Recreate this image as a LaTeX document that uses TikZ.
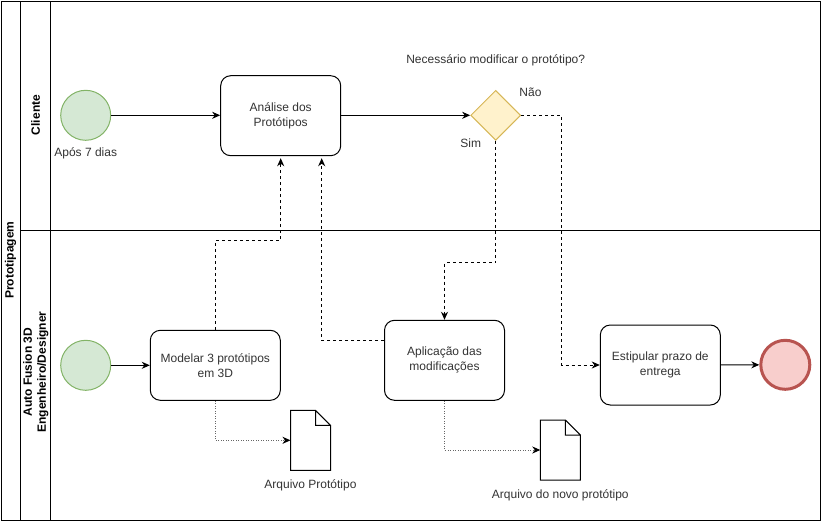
\documentclass[tikz,border=0pt]{standalone}
\usepackage{fontspec}
\setmainfont{Liberation Sans}
\usetikzlibrary{arrows.meta,shapes.geometric,positioning}
\definecolor{txt}{HTML}{333333}
\definecolor{startfill}{HTML}{D5E8D4}
\definecolor{startline}{HTML}{82B366}
\definecolor{gwfill}{HTML}{FFF2CC}
\definecolor{gwline}{HTML}{D6B656}
\definecolor{endfill}{HTML}{F8CECC}
\definecolor{endline}{HTML}{B85450}
\begin{document}
\begin{tikzpicture}[x=1pt,y=-1pt,line width=1pt,font=\fontsize{12}{15}\selectfont,
    task/.style={draw,rounded corners=10pt,minimum width=120pt,minimum height=80pt,align=center,text=txt},
    start/.style={circle,draw=startline,fill=startfill,minimum size=50pt,inner sep=0pt},
    stop/.style={circle,draw=endline,fill=endfill,line width=3pt,minimum size=49pt,inner sep=0pt},
    gate/.style={diamond,draw=gwline,fill=gwfill,minimum width=50pt,minimum height=50pt,inner sep=0pt},
    docbox/.style={minimum width=40pt,minimum height=60pt,inner sep=0pt,outer sep=0pt},
    lbl/.style={text=txt,inner sep=1pt},
    lane/.style={rotate=90,align=center,font=\fontsize{12}{14}\selectfont\bfseries},
    flow/.style={-{Stealth[length=8pt,width=7pt,inset=2.5pt]}},
    msg/.style={flow,dash pattern=on 3pt off 3pt},
    assoc/.style={-{Stealth[length=8pt,width=7pt,inset=2.5pt,color=black]},dash pattern=on 1pt off 1.5pt,draw=black!60}]
    \useasboundingbox (0,0) rectangle (822,522);
    % pool and lanes
    \draw (1,1) rectangle (820,520);
    \draw (20.7,1) -- (20.7,520);
    \draw (50.7,1) -- (50.7,520);
    \draw (20.7,230) -- (820,230);
    \node[lane] (pool) at (10.5,260) {Prototipagem};
    \node[lane] (cliente) at (35.7,115) {Cliente};
    \node[lane] (engenharia) at (35.7,372) {Auto Fusion 3D\\Engenheiro/Designer};
    % cliente
    \node[start] (inicio1) at (85.7,115.3) {};
    \node[lbl] (dias) at (85.7,153.5) {Após 7 dias};
    \node[task] (analise) at (280.7,115.7) {Análise dos\\Protótipos};
    \node[gate] (decisao) at (495.7,115.3) {};
    \node[lbl] (pergunta) at (495.7,60) {Necessário modificar o protótipo?};
    \node[lbl] (nao) at (530.5,92.7) {Não};
    \node[lbl] (sim) at (470.7,143.3) {Sim};
    % engenheiro/designer
    \node[start] (inicio2) at (85.7,365.3) {};
    \node[task,minimum width=130pt,minimum height=70pt] (modelar) at (215.3,365.3) {Modelar 3 protótipos\\em 3D};
    \node[task] (aplicacao) at (444.5,360.3) {Aplicação das\\modificações};
    \node[task] (prazo) at (660.3,365) {Estipular prazo de\\entrega};
    \node[stop] (fim) at (785.3,364.8) {};
    \node[docbox] (doc1) at (310.5,440.3) {};
    \node[docbox] (doc2) at (560.3,450) {};
    \node[lbl,below=8pt of doc1] (arquivo1) {Arquivo Protótipo};
    \node[lbl,below=8pt of doc2] (arquivo2) {Arquivo do novo protótipo};
    \foreach \d in {doc1,doc2}
        \draw[fill=white] (\d.south west) -- (\d.north west) -- ([xshift=-15pt]\d.north east)
            -- ([yshift=-15pt]\d.north east) -- (\d.south east) -- cycle
            ([xshift=-15pt]\d.north east) |- ([yshift=-15pt]\d.north east);
    % fluxos
    \draw[flow] (inicio1) -- (analise.west |- inicio1);
    \draw[flow] (analise.east |- decisao) -- (decisao.west);
    \draw[flow] (inicio2) -- (modelar);
    \draw[flow] (prazo) -- (fim);
    \draw[msg] (decisao.south) -- ++(0,122) -| (aplicacao.north);
    \draw[msg] (decisao.east) -- ++(40,0) |- (prazo.west);
    \draw[msg,shorten >=2pt] (modelar.north) -- ++(0,-89) -| (analise.south);
    \draw[msg,shorten >=2pt] ([yshift=20pt]aplicacao.west) -| ([xshift=41pt]analise.south);
    \draw[assoc] (modelar.south) |- (doc1.west);
    \draw[assoc] (aplicacao.south) |- (doc2.west);
\end{tikzpicture}
\end{document}
